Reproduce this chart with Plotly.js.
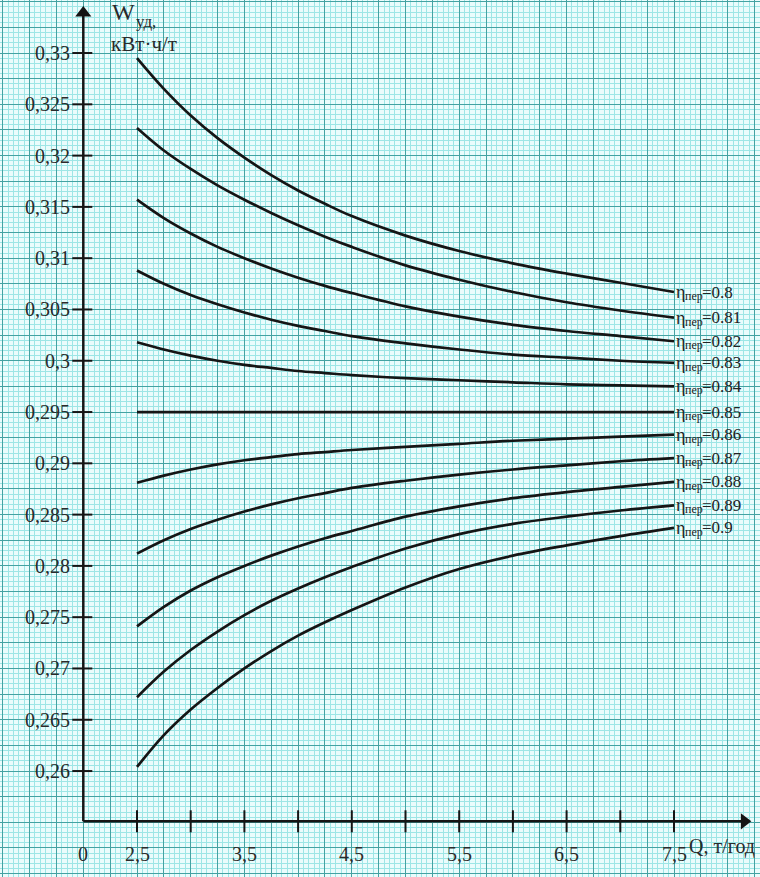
<!DOCTYPE html>
<html>
<head>
<meta charset="utf-8">
<script src="https://cdn.plot.ly/plotly-3.0.1.min.js"></script>
<style>html,body{margin:0;padding:0;background:#eafcfc;}#chart{width:760px;height:877px;}</style>
</head>
<body>
<div id="chart"></div>
<script>
// Q, т/год
const Q = [2.5, 2.75, 3, 3.25, 3.5, 3.75, 4, 4.25, 4.5, 5, 5.5, 6, 6.5, 7, 7.5];
// W уд, кВт·ч/т for each transmission efficiency
const w080 = [0.3295,0.3265,0.3239,0.3217,0.3198,0.3181,0.3166,0.3153,0.3141,0.3122,0.3107,0.3095,0.3085,0.3076,0.3067];
const w081 = [0.3227,0.3205,0.3187,0.3171,0.3157,0.3144,0.3132,0.3121,0.3111,0.3093,0.3079,0.3067,0.3057,0.3049,0.3042];
const w082 = [0.3157,0.3139,0.3124,0.3111,0.3100,0.3090,0.3081,0.3073,0.3066,0.3053,0.3043,0.3035,0.3029,0.3024,0.3019];
const w083 = [0.3088,0.3075,0.3064,0.3055,0.3047,0.3040,0.3034,0.3029,0.3024,0.3017,0.3011,0.3006,0.3003,0.3000,0.2998];
const w084 = [0.3018,0.3011,0.3005,0.3000,0.2996,0.2993,0.2990,0.2988,0.2986,0.2983,0.2981,0.2979,0.2977,0.2976,0.2975];
const w085 = [0.2950,0.2950,0.2950,0.2950,0.2950,0.2950,0.2950,0.2950,0.2950,0.2950,0.2950,0.2950,0.2950,0.2950,0.2950];
const w086 = [0.2881,0.2888,0.2894,0.2899,0.2903,0.2906,0.2909,0.2911,0.2913,0.2916,0.2919,0.2922,0.2924,0.2926,0.2928];
const w087 = [0.2812,0.2825,0.2836,0.2845,0.2853,0.2860,0.2866,0.2871,0.2876,0.2883,0.2889,0.2894,0.2898,0.2902,0.2905];
const w088 = [0.2741,0.2760,0.2776,0.2789,0.2800,0.2810,0.2819,0.2827,0.2834,0.2848,0.2858,0.2866,0.2872,0.2877,0.2882];
const w089 = [0.2672,0.2697,0.2718,0.2736,0.2752,0.2766,0.2778,0.2789,0.2799,0.2817,0.2831,0.2841,0.2848,0.2854,0.2859];
const w090 = [0.2604,0.2635,0.2660,0.2681,0.2700,0.2717,0.2732,0.2745,0.2757,0.2779,0.2797,0.2810,0.2820,0.2829,0.2837];
const etaLabels = ['0.8','0.81','0.82','0.83','0.84','0.85','0.86','0.87','0.88','0.89','0.9'];
const seriesList = [w080,w081,w082,w083,w084,w085,w086,w087,w088,w089,w090];

// axis ticks
const xTickVals = [2.5,3,3.5,4,4.5,5,5.5,6,6.5,7,7.5];
const xLabelVals = [2,2.5,3.5,4.5,5.5,6.5,7.5];
const xLabelText = ['0','2,5','3,5','4,5','5,5','6,5','7,5'];
const yTickVals = [0.26,0.265,0.27,0.275,0.28,0.285,0.29,0.295,0.3,0.305,0.31,0.315,0.32,0.325,0.33];
const yTickText = ['0,26','0,265','0,27','0,275','0,28','0,285','0,29','0,295','0,3','0,305','0,31','0,315','0,32','0,325','0,33'];

const X0 = 2;          // position of the vertical axis
const Y0 = 0.2551;     // position of the horizontal axis
const XEND = 8.155;    // arrowhead centres
const YEND = 0.3339;
const XR = [1.2244, 8.3007];
const YR = [0.24967, 0.33517];
const serif = 'Liberation Serif, Times New Roman, serif';
const ink = '#151515';
const txt = '#2a2a2a';

const traces = seriesList.map((s, i) => ({
  x: Q, y: s, type: 'scatter', mode: 'lines',
  line: {color: ink, width: 2.7, shape: 'spline', smoothing: 1},
  name: 'η=' + etaLabels[i], hoverinfo: 'skip', showlegend: false
}));
// arrowheads of the axes
traces.push({x: [XEND], y: [Y0], type: 'scatter', mode: 'markers', hoverinfo: 'skip', showlegend: false,
  marker: {symbol: 'triangle-right', size: 14, color: ink, line: {width: 0}}});
traces.push({x: [X0], y: [YEND], type: 'scatter', mode: 'markers', hoverinfo: 'skip', showlegend: false,
  marker: {symbol: 'triangle-up', size: 14, color: ink, line: {width: 0}}});

const shapes = [
  {type: 'line', xref: 'x', yref: 'y', x0: X0, x1: XEND, y0: Y0, y1: Y0, line: {color: ink, width: 2.5}},
  {type: 'line', xref: 'x', yref: 'y', x0: X0, x1: X0, y0: Y0, y1: YEND, line: {color: ink, width: 2.5}}
];
xTickVals.forEach(v => shapes.push({type: 'line', xref: 'x', yref: 'y', ysizemode: 'pixel', yanchor: Y0,
  x0: v, x1: v, y0: -11, y1: 11, line: {color: ink, width: 2}}));
yTickVals.forEach(v => shapes.push({type: 'line', xref: 'x', yref: 'y', xsizemode: 'pixel', xanchor: X0,
  x0: -11, x1: 9, y0: v, y1: v, line: {color: ink, width: 2}}));

function note(o) {
  return Object.assign({showarrow: false, xanchor: 'left', yanchor: 'middle'}, o);
}
const annotations = [
  note({xref: 'paper', yref: 'paper', x: 110/760, y: 1 - 12/877, text: 'W', font: {family: serif, size: 24, color: txt}}),
  note({xref: 'paper', yref: 'paper', x: 134/760, y: 1 - 21/877, text: 'уд,', font: {family: serif, size: 17, color: txt}}),
  note({xref: 'paper', yref: 'paper', x: 109/760, y: 1 - 44/877, text: 'кВт·ч/т', font: {family: serif, size: 21, color: txt}}),
  note({xref: 'paper', yref: 'paper', x: 687/760, y: 1 - 846/877, text: 'Q, т/год', font: {family: serif, size: 20, color: txt}})
];
xLabelVals.forEach((v, i) => annotations.push(note({x: v, y: Y0, xref: 'x', yref: 'y', xanchor: 'center', yanchor: 'top',
  yshift: -20, text: xLabelText[i], font: {family: serif, size: 20, color: txt}})));
yTickVals.forEach((v, i) => annotations.push(note({x: X0, y: v, xref: 'x', yref: 'y', xanchor: 'right',
  xshift: -11, text: yTickText[i], font: {family: serif, size: 20, color: txt}})));
// curve labels: η, subscript "пер", "=value"
seriesList.forEach((s, i) => {
  const xv = Q[Q.length - 1], yv = s[s.length - 1];
  annotations.push(note({x: xv, y: yv, xref: 'x', yref: 'y', xshift: 0, text: 'η',
    font: {family: serif, size: 18, color: '#222'}}));
  annotations.push(note({x: xv, y: yv, xref: 'x', yref: 'y', xshift: 9, yshift: -4, text: 'пер',
    font: {family: serif, size: 12, color: '#222'}}));
  annotations.push(note({x: xv, y: yv, xref: 'x', yref: 'y', xshift: 26, text: '=' + etaLabels[i],
    font: {family: serif, size: 17, color: '#222'}}));
});

const layout = {
  width: 760, height: 877,
  margin: {l: 0, r: 0, t: 0, b: 0, pad: 0},
  paper_bgcolor: '#eafcfc', plot_bgcolor: '#eafcfc',
  showlegend: false,
  xaxis: {range: XR, tick0: 2, dtick: 0.25, showgrid: true, gridcolor: '#44a2a2', gridwidth: 1,
    minor: {tick0: 2, dtick: 0.05, showgrid: true, gridcolor: '#9de6e6', gridwidth: 1},
    zeroline: false, showline: false, showticklabels: false, ticks: '', fixedrange: true},
  yaxis: {range: YR, tick0: 0.25, dtick: 0.0025, showgrid: true, gridcolor: '#44a2a2', gridwidth: 1,
    minor: {tick0: 0.25, dtick: 0.0005, showgrid: true, gridcolor: '#9de6e6', gridwidth: 1},
    zeroline: false, showline: false, showticklabels: false, ticks: '', fixedrange: true},
  shapes: shapes,
  annotations: annotations
};

Plotly.newPlot('chart', traces, layout, {displayModeBar: false, staticPlot: true});
</script>
</body>
</html>
